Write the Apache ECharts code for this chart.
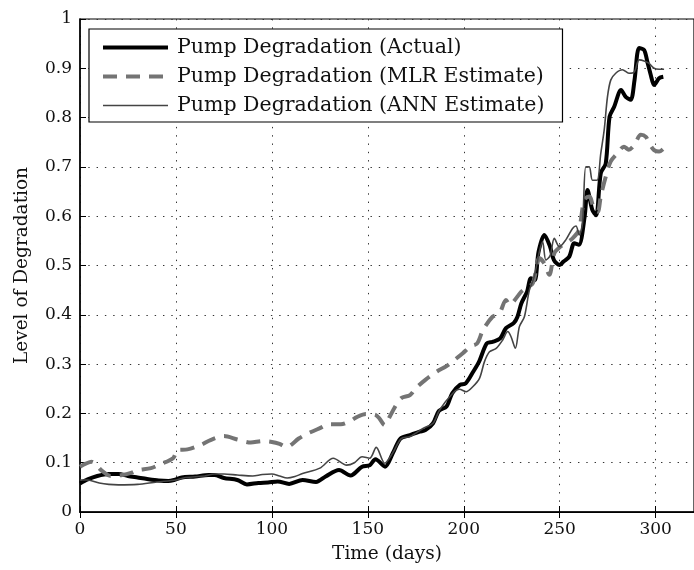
<!DOCTYPE html>
<html>
<head>
<meta charset="utf-8">
<script src="https://cdn.jsdelivr.net/npm/echarts@6/dist/echarts.min.js"></script>
<style>
html,body{margin:0;padding:0;background:#fff;}
#chart{width:694px;height:570px;}
</style>
</head>
<body>
<div id="chart"></div>
<script>
const seriesNames = ['Pump Degradation (Actual)', 'Pump Degradation (MLR Estimate)', 'Pump Degradation (ANN Estimate)'];
const xTicks = [0, 50, 100, 150, 200, 250, 300];
const yTicks = [0, 0.1, 0.2, 0.3, 0.4, 0.5, 0.6, 0.7, 0.8, 0.9, 1];

const actualDays = [0,4,9,15,20,25,30,35,41,46,49,53,60,67,70,75,82,87,93,98,103,109,116,123,128,135,141,147,151,154,159,163,167,172,177,180,184,187,191,194,198,201,205,208,212,215,219,222,226,228,230,233,235,237,239,242,245,247,250,252,255,257.6,260,263,264.5,267,269,271.4,274,276,278.4,282,284.4,287,289,291.4,294,295.7,297.5,299.2,301.8,304];
const actualVals = [0.058,0.066,0.073,0.077,0.077,0.073,0.070,0.067,0.064,0.063,0.065,0.070,0.072,0.075,0.075,0.069,0.065,0.056,0.059,0.060,0.062,0.057,0.065,0.061,0.072,0.085,0.074,0.092,0.095,0.107,0.092,0.119,0.149,0.156,0.163,0.166,0.180,0.205,0.214,0.241,0.258,0.261,0.285,0.305,0.342,0.345,0.352,0.373,0.383,0.396,0.423,0.447,0.474,0.470,0.528,0.562,0.538,0.511,0.501,0.508,0.518,0.545,0.542,0.599,0.653,0.613,0.602,0.687,0.707,0.802,0.822,0.856,0.842,0.836,0.876,0.941,0.937,0.913,0.886,0.866,0.880,0.883];

const mlrDays = [0,3,6,8,11,16,22,27,30,37,42,48.5,51,56,63,68,75,82,89,95,100,104,107.6,114,118,125,130,136,141,144,149,154,156,158.8,161.4,164,167.4,172,175,180,186,191,195,199.5,203.5,207,210,215,218.6,222,224,228,230,232.4,236,239.4,242,244.6,247.2,250,253,256.7,260,262.8,265.4,268,269.8,271.4,274,276.6,280,283.5,286,288.8,292.3,294.9,296.6,299.2,301.8,304.4];
const mlrVals = [0.092,0.098,0.102,0.098,0.085,0.073,0.075,0.080,0.085,0.089,0.097,0.109,0.126,0.127,0.136,0.146,0.154,0.147,0.141,0.144,0.142,0.138,0.132,0.149,0.158,0.170,0.178,0.178,0.185,0.192,0.199,0.197,0.190,0.176,0.193,0.212,0.231,0.237,0.251,0.268,0.285,0.296,0.308,0.322,0.336,0.342,0.369,0.396,0.403,0.430,0.420,0.437,0.447,0.454,0.464,0.515,0.504,0.481,0.525,0.537,0.545,0.555,0.572,0.633,0.640,0.613,0.609,0.640,0.680,0.711,0.727,0.741,0.735,0.744,0.765,0.761,0.748,0.734,0.731,0.738];

const annDays = [0,4,10,15,20,30,40,50,55,65,70,75,82,90,95,100,104,108,112,116,125,132,139,143,147,151,154.4,158.8,163,167.4,172,179,184,187.4,194.3,197.8,201.2,204.7,208.2,210.8,213.4,216.9,220.3,222.9,224.6,226.9,229,231.6,234.2,236.7,239.4,241.1,242.8,245,247.2,249.8,253.2,256.7,258.5,260.2,261.9,263.6,265.4,267.1,269.5,271.4,273.2,274.9,276.6,279.2,282.7,286.1,288.8,291.4,294,296.6,299.2,301.8,304.4];
const annVals = [0.065,0.065,0.059,0.056,0.055,0.056,0.061,0.065,0.070,0.073,0.077,0.077,0.075,0.073,0.076,0.077,0.073,0.069,0.072,0.078,0.089,0.109,0.095,0.100,0.112,0.109,0.131,0.099,0.120,0.149,0.153,0.170,0.180,0.207,0.241,0.249,0.244,0.254,0.271,0.305,0.325,0.332,0.349,0.366,0.356,0.332,0.376,0.396,0.450,0.477,0.528,0.548,0.511,0.520,0.555,0.538,0.552,0.575,0.580,0.562,0.586,0.700,0.700,0.673,0.673,0.727,0.775,0.842,0.876,0.890,0.897,0.890,0.892,0.917,0.915,0.910,0.900,0.898,0.898];

function pairs(xs, ys) { return xs.map((x, i) => [x, ys[i]]); }

const FONT = 'DejaVu Serif';
const chart = echarts.init(document.getElementById('chart'), null, {renderer: 'canvas'});
const gridDash = {color: '#333', width: 1, type: [1.4, 6.9]};
const styles = [
  {color: '#000', width: 4, type: 'solid'},
  {color: '#747474', width: 4, type: [14, 9]},
  {color: '#444', width: 1.6, type: 'solid'}
];

chart.setOption({
  animation: false,
  backgroundColor: '#fff',
  textStyle: {fontFamily: FONT},
  grid: {left: 80, top: 19, right: -1, bottom: 58, show: true, borderColor: '#000', borderWidth: 1.2, backgroundColor: 'transparent'},
  legend: {
    orient: 'vertical', left: 89, top: 29,
    data: seriesNames.map((n, i) => ({name: n, lineStyle: {width: styles[i].width, color: styles[i].color, type: styles[i].type}})),
    itemWidth: 65, itemHeight: 14, itemGap: 8,
    padding: [8, 18, 6, 12],
    backgroundColor: '#fff', borderColor: '#000', borderWidth: 1.2, borderRadius: 0,
    itemStyle: {opacity: 0},
    textStyle: {fontFamily: FONT, fontSize: 20.5, color: '#111', lineHeight: 20, padding: [0, 0, 0, 4]}
  },
  xAxis: [{
    type: 'value', min: 0, max: 320, interval: 50,
    name: 'Time (days)', nameLocation: 'middle', nameGap: 33,
    nameTextStyle: {fontFamily: FONT, fontSize: 18.5, color: '#111'},
    axisLine: {show: true, onZero: false, lineStyle: {color: '#000', width: 1.5}},
    axisTick: {show: true, inside: true, length: 6, lineStyle: {color: '#000'}},
    axisLabel: {fontFamily: FONT, fontSize: 17, color: '#111', margin: 9, showMaxLabel: false,
      formatter: v => xTicks.includes(v) ? String(v) : ''},
    splitLine: {show: true, lineStyle: gridDash}
  }, {
    type: 'value', min: 0, max: 320, interval: 50, position: 'top',
    axisLine: {show: true, lineStyle: {color: '#000', width: 1.2}},
    axisTick: {show: true, inside: true, length: 6, lineStyle: {color: '#000'}},
    axisLabel: {show: false}, splitLine: {show: false}
  }],
  yAxis: {
    type: 'value', min: 0, max: 1, interval: 0.1,
    name: 'Level of Degradation', nameLocation: 'middle', nameGap: 48,
    nameTextStyle: {fontFamily: FONT, fontSize: 18.5, color: '#111'},
    axisLine: {show: true, onZero: false, lineStyle: {color: '#000', width: 1.5}},
    axisTick: {show: true, inside: true, length: 6, lineStyle: {color: '#000'}},
    axisLabel: {fontFamily: FONT, fontSize: 17, color: '#111', margin: 8,
      formatter: v => { const t = yTicks.find(k => Math.abs(k - v) < 1e-9); return t === undefined ? '' : (t === 0 ? '0' : t === 1 ? '1' : t.toFixed(1)); }},
    splitLine: {show: true, lineStyle: gridDash}
  },
  series: [
    {name: seriesNames[0], type: 'line', data: pairs(actualDays, actualVals), showSymbol: false, symbol: 'none', smooth: 0.3,
      lineStyle: styles[0], itemStyle: {color: styles[0].color}},
    {name: seriesNames[1], type: 'line', data: pairs(mlrDays, mlrVals), showSymbol: false, symbol: 'none', smooth: 0.3,
      lineStyle: styles[1], itemStyle: {color: styles[1].color}},
    {name: seriesNames[2], type: 'line', data: pairs(annDays, annVals), showSymbol: false, symbol: 'none', smooth: 0.3,
      lineStyle: styles[2], itemStyle: {color: styles[2].color}}
  ]
});
</script>
</body>
</html>
